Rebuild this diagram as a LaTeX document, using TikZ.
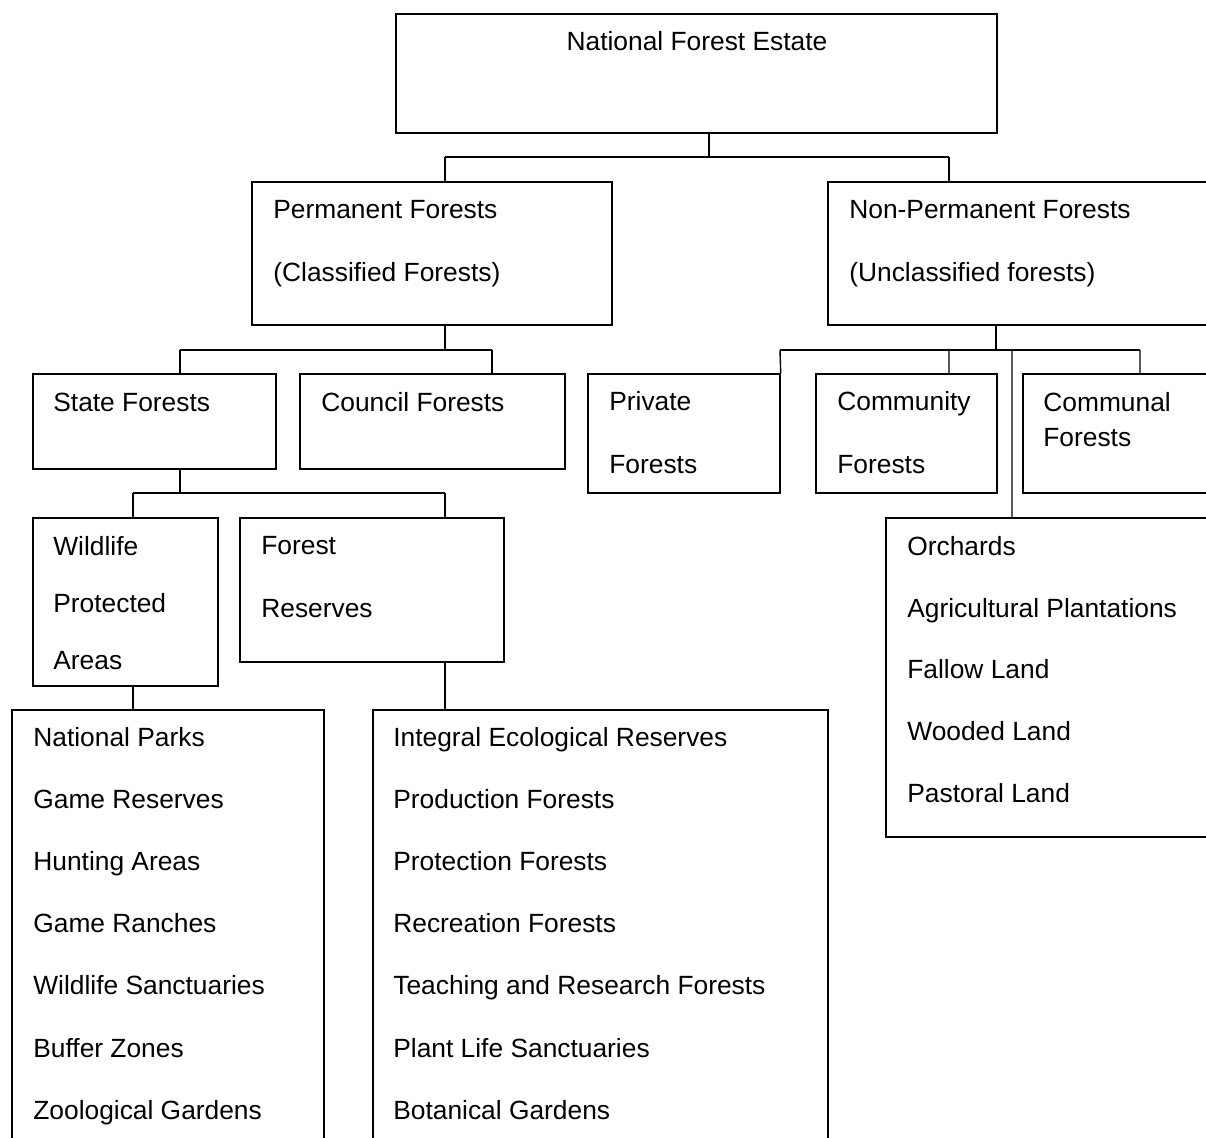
\documentclass[tikz,border=0pt]{standalone}
\usepackage{fontspec}
\setmainfont{Liberation Sans}
\usetikzlibrary{fit}

\tikzset{
	box/.style={draw, rectangle, inner sep=0pt, line width=0.8pt},
	txt/.style={anchor=base west, align=left, inner sep=0pt, font=\fontsize{15pt}{35.3pt}\selectfont},
	link/.style={line width=0.8pt}
}

\begin{document}
\begin{tikzpicture}[x=0.02cm, y=-0.02cm]
			\useasboundingbox (0,0) rectangle (1206,1137);
			\clip (0,0) rectangle (1206,1137);
			
			% Draw top box (texts are placed at the baseline of their last line)
			\node[box, fit={(396,14) (997,133)}] (nfe) {};
			\node[txt, anchor=base] (nfe-t) at (697,50) {National Forest Estate};
			
			% Draw second level
			\node[box, fit={(252,182) (612,325)}] (perm) {};
			\node[txt] (perm-t) at (273,281) {Permanent Forests\\(Classified Forests)};
			\node[box, fit={(828,182) (1230,325)}] (nonperm) {};
			\node[txt] (nonperm-t) at (849,281) {Non-Permanent Forests\\(Unclassified forests)};
			
			% Draw classified forests
			\node[box, fit={(33,374) (276,469)}] (state) {};
			\node[txt] (state-t) at (53,411) {State Forests};
			\node[box, fit={(300,374) (565,469)}] (council) {};
			\node[txt] (council-t) at (321,411) {Council Forests};
			
			% Draw unclassified forests
			\node[box, fit={(588,374) (780,493)}] (private) {};
			\node[txt] (private-t) at (609,473) {Private\\Forests};
			\node[box, fit={(816,374) (997,493)}] (community) {};
			\node[txt] (community-t) at (837,473) {Community\\Forests};
			\node[box, fit={(1023,374) (1230,493)}] (communal) {};
			\node[txt, font=\fontsize{15pt}{19.9pt}\selectfont] (communal-t) at (1043,446) {Communal\\Forests};
			\node[box, fit={(886,518) (1230,837)}] (orchards) {};
			\node[txt, font=\fontsize{15pt}{35.1pt}\selectfont] (orchards-t) at (907,802) {Orchards\\Agricultural Plantations\\Fallow Land\\Wooded Land\\Pastoral Land};
			
			% Draw state forests
			\node[box, fit={(33,518) (218,686)}] (wildlife) {};
			\node[txt, font=\fontsize{15pt}{32.4pt}\selectfont] (wildlife-t) at (53,669) {Wildlife\\Protected\\Areas};
			\node[box, fit={(240,518) (504,662)}] (reserves) {};
			\node[txt] (reserves-t) at (261,617) {Forest\\Reserves};
			
			% Draw bottom lists
			\node[box, fit={(12,710) (324,1170)}] (parks) {};
			\node[txt] (parks-t) at (33,1119) {National Parks\\Game Reserves\\Hunting Areas\\Game Ranches\\Wildlife Sanctuaries\\Buffer Zones\\Zoological Gardens};
			\node[box, fit={(373,710) (828,1170)}] (ecol) {};
			\node[txt] (ecol-t) at (393,1119) {Integral Ecological Reserves\\Production Forests\\Protection Forests\\Recreation Forests\\Teaching and Research Forests\\Plant Life Sanctuaries\\Botanical Gardens};
			
			% Draw links from top box
			\coordinate (j0) at (709,157);
			\coordinate (j0l) at (445,157);
			\coordinate (j0r) at (949,157);
			\draw[link] (nfe.south -| j0) -- (j0) (j0l) -- (j0r);
			\draw[link] (j0l) -- (j0l |- perm.north) (j0r) -- (j0r |- nonperm.north);
			
			% Draw links from permanent forests
			\coordinate (j1) at (445,350);
			\coordinate (j1l) at (180,350);
			\coordinate (j1r) at (492,350);
			\draw[link] (perm.south -| j1) -- (j1) (j1l) -- (j1r);
			\draw[link] (j1l) -- (j1l |- state.north) (j1r) -- (j1r |- council.north);
			
			% Draw links from non-permanent forests
			\coordinate (j2) at (996,350);
			\coordinate (j2a) at (780,350);
			\coordinate (j2b) at (949,350);
			\coordinate (j2c) at (1012,350);
			\coordinate (j2d) at (1140,350);
			\draw[link] (nonperm.south -| j2) -- (j2) (j2a) -- (j2d);
			\draw[link] (j2a) -- (private.north east) (j2b) -- (j2b |- community.north)
			(j2c) -- (j2c |- orchards.north) (j2d) -- (j2d |- communal.north);
			
			% Draw links from state forests
			\coordinate (j3) at (180,493);
			\coordinate (j3l) at (133,493);
			\coordinate (j3r) at (445,493);
			\draw[link] (state.south -| j3) -- (j3) (j3l) -- (j3r);
			\draw[link] (j3l) -- (j3l |- wildlife.north) (j3r) -- (j3r |- reserves.north);
			
			% Draw links to lists
			\draw[link] (wildlife.south -| j3l) -- (j3l |- parks.north);
			\draw[link] (reserves.south -| j3r) -- (j3r |- ecol.north);
		\end{tikzpicture}
\end{document}
